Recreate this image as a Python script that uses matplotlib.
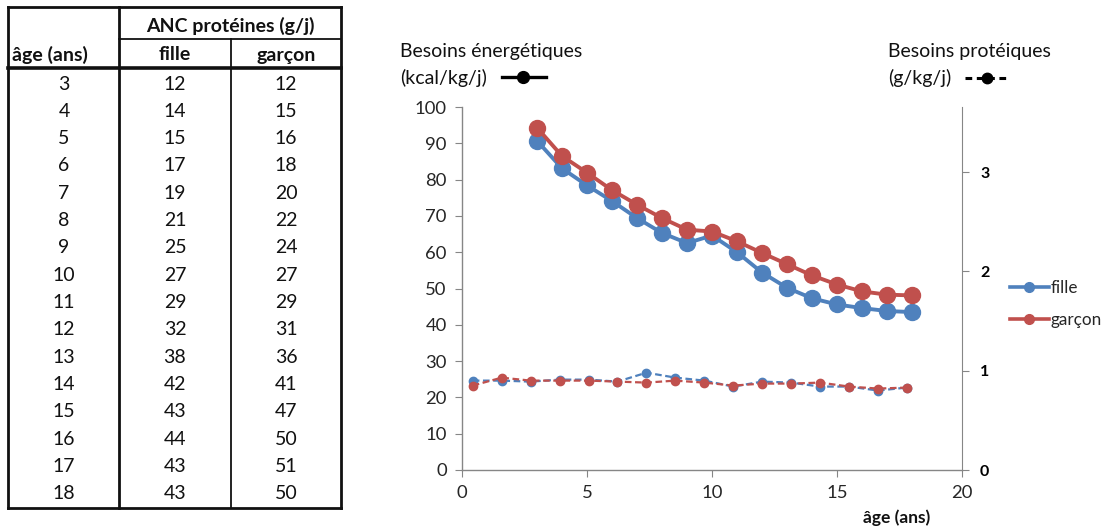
import numpy as np
import matplotlib.pyplot as plt
from matplotlib.lines import Line2D

plt.rcParams['font.family'] = ['Lato', 'DejaVu Sans']

# table data
ages = [3, 4, 5, 6, 7, 8, 9, 10, 11, 12, 13, 14, 15, 16, 17, 18]
anc_fille = [12, 14, 15, 17, 19, 21, 25, 27, 29, 32, 38, 42, 43, 44, 43, 43]
anc_garcon = [12, 15, 16, 18, 20, 22, 24, 27, 29, 31, 36, 41, 47, 50, 51, 50]

# energy needs (kcal/kg/j), left axis
energie_fille = [90.7, 83.1, 78.4, 74.1, 69.4, 65.3, 62.5, 64.6, 60.0, 54.4,
                 50.2, 47.3, 45.6, 44.6, 43.8, 43.5]
energie_garcon = [94.3, 86.5, 81.9, 77.1, 73.1, 69.4, 66.2, 65.7, 63.0, 59.8,
                  56.7, 53.6, 51.1, 49.2, 48.3, 48.1]

# protein needs (g/kg/j), right axis, drawn on a category axis
prot_fille = [0.90, 0.90, 0.89, 0.91, 0.91, 0.89, 0.98, 0.93, 0.90, 0.84,
              0.89, 0.88, 0.84, 0.84, 0.80, 0.83]
prot_garcon = [0.85, 0.93, 0.90, 0.90, 0.90, 0.89, 0.88, 0.90, 0.88, 0.85,
               0.87, 0.87, 0.88, 0.84, 0.82, 0.83]

BLUE = '#4F81BD'
RED = '#C0504D'
GRID = '#868686'
TXT = '#262626'
FS = 14

fig = plt.figure(figsize=(11.05, 5.28), dpi=100)

# overlay in pixel coords for the table and the header keys
ov = fig.add_axes([0, 0, 1, 1])
ov.set_xlim(0, 1105)
ov.set_ylim(528, 0)
ov.axis('off')

L, C1, C2, R = 8, 119, 231, 341
TOP, SUB, HEAD, BOT = 7, 39, 68, 508
ink = '#111111'
ov.plot([L, R], [TOP, TOP], color=ink, lw=2.0)
ov.plot([L, R], [BOT, BOT], color=ink, lw=2.0)
ov.plot([L, L], [TOP, BOT], color=ink, lw=2.0)
ov.plot([R, R], [TOP, BOT], color=ink, lw=2.0)
ov.plot([C1, C1], [TOP, BOT], color=ink, lw=2.0)
ov.plot([C2, C2], [SUB, BOT], color=ink, lw=1.3)
ov.plot([C1, R], [SUB, SUB], color=ink, lw=1.3)
ov.plot([L, R], [HEAD, HEAD], color=ink, lw=2.6)

ov.text(230, 26, 'ANC protéines (g/j)', ha='center', va='center', fontsize=FS,
        fontweight='bold', color=ink)
ov.text(12, 55, 'âge (ans)', ha='left', va='center', fontsize=FS,
        fontweight='bold', color=ink)
ov.text(175, 55, 'fille', ha='center', va='center', fontsize=FS,
        fontweight='bold', color=ink)
ov.text(286, 55, 'garçon', ha='center', va='center', fontsize=FS,
        fontweight='bold', color=ink)
for i, (a, f, g) in enumerate(zip(ages, anc_fille, anc_garcon)):
    y = 84 + i * 27.33
    ov.text(64, y, str(a), ha='center', va='center', fontsize=FS, color=ink)
    ov.text(175, y, str(f), ha='center', va='center', fontsize=FS, color=ink)
    ov.text(286, y, str(g), ha='center', va='center', fontsize=FS, color=ink)

# header keys above the chart
ov.text(400, 52, 'Besoins énergétiques', ha='left', va='center', fontsize=FS, color=ink)
ov.text(400, 78, '(kcal/kg/j)', ha='left', va='center', fontsize=FS, color=ink)
ov.plot([502, 546], [77, 77], color='black', lw=2.4)
ov.plot([523], [77], 'o', color='black', ms=8.5)
ov.text(888, 52, 'Besoins protéiques', ha='left', va='center', fontsize=FS, color=ink)
ov.text(888, 78, '(g/kg/j)', ha='left', va='center', fontsize=FS, color=ink)
ov.plot([965, 1010], [78, 78], color='black', lw=2.2, dashes=(2.2, 1.5))
ov.plot([987], [78], 'o', color='black', ms=7.5)

# main chart
pos = [462 / 1105, 58 / 528, 500 / 1105, 363 / 528]
ax = fig.add_axes(pos)
ax.patch.set_alpha(0)
ax.plot(ages, energie_fille, '-o', color=BLUE, lw=2.8, ms=11.5, zorder=3)
ax.plot(ages, energie_garcon, '-o', color=RED, lw=2.8, ms=11.5, zorder=3)
ax.set_xlim(0, 20)
ax.set_ylim(0, 100)
ax.set_xticks(range(0, 21, 5))
ax.set_yticks(range(0, 101, 10))
for s in ['top', 'right']:
    ax.spines[s].set_visible(False)
for s in ['left', 'bottom']:
    ax.spines[s].set_color(GRID)
    ax.spines[s].set_linewidth(1.0)
ax.tick_params(axis='both', direction='out', length=5, color=GRID,
               labelsize=13.3, labelcolor=TXT, pad=6)

ax2 = ax.twinx()
ax2.set_ylim(0, 3.655)
ax2.set_yticks([0, 1, 2, 3])
for s in ['top', 'left', 'bottom']:
    ax2.spines[s].set_visible(False)
ax2.spines['right'].set_color(GRID)
ax2.tick_params(axis='y', direction='out', length=5, color=GRID,
                labelsize=11.5, labelcolor='black', pad=8)
for lab in ax2.get_yticklabels():
    lab.set_fontweight('bold')

ax3 = ax2.twiny()
ax3.set_xlim(-0.371, 16.9)
ax3.xaxis.set_visible(False)
for s in ax3.spines.values():
    s.set_visible(False)
cat = np.arange(len(ages))
ax3.plot(cat, prot_fille, 'o', ls=(0, (3, 1.6)), color=BLUE, lw=1.6, ms=6, zorder=2)
ax3.plot(cat, prot_garcon, 'o', ls=(0, (3, 1.6)), color=RED, lw=1.6, ms=6, zorder=2)

fig.text(897 / 1105, 1 - 518 / 528, 'âge (ans)', ha='center', va='center',
         fontsize=12.5, fontweight='bold', color=ink)

handles = [Line2D([], [], color=BLUE, lw=2.6, marker='o', ms=7),
           Line2D([], [], color=RED, lw=2.6, marker='o', ms=7)]
fig.legend(handles, ['fille', 'garçon'], loc='center left',
           bbox_to_anchor=(1001 / 1105, 1 - 304 / 528), frameon=False,
           fontsize=12.3, handlelength=2.3, handletextpad=0.08, labelspacing=0.95,
           borderpad=0, labelcolor=TXT)

fig.savefig('out.png', dpi=100)
